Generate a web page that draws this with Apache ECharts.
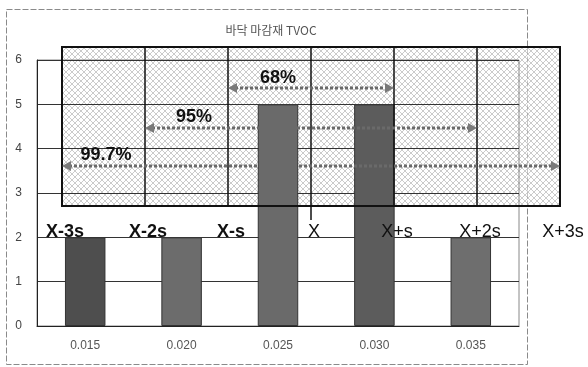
<!DOCTYPE html>
<html>
<head>
<meta charset="utf-8">
<script src="https://cdn.jsdelivr.net/npm/echarts@6/dist/echarts.min.js"></script>
<style>
  html, body { margin: 0; padding: 0; background: #fff; }
  #chart { width: 588px; height: 367px; }
</style>
</head>
<body>
<div id="chart"></div>
<script>
// Concentration classes on the x axis and the number of samples in each
const categories = ['0.015', '0.020', '0.025', '0.030', '0.035'];
const counts = [2, 2, 5, 5, 2];
const barColors = ['#4e4e4e', '#6c6c6c', '#6a6a6a', '#5c5c5c', '#6e6e6e'];
const titleText = '바닥 마감재 TVOC';

// Sigma band labels and coverage of each band
const sigmaLabels = ['X-3s', 'X-2s', 'X-s', 'X', 'X+s', 'X+2s', 'X+3s'];
const coverageLabels = ['68%', '95%', '99.7%'];

// Layout of the sigma overlay (pixels)
const bandLeft = 62, bandStep = 83, bandTop = 47, bandBottom = 206;
const arrowRows = [
  { from: 2, to: 4, y: 88, lx: 278, ly: 78 },
  { from: 1, to: 5, y: 128, lx: 194, ly: 117 },
  { from: 0, to: 6, y: 166, lx: 106, ly: 155 }
];

// light crosshatch tile for the overlay
function hatchTile() {
  const n = 6;
  const c = document.createElement('canvas');
  c.width = n; c.height = n;
  const g = c.getContext('2d');
  g.fillStyle = 'rgba(255,255,255,0.5)';
  g.fillRect(0, 0, n, n);
  g.fillStyle = 'rgba(140,140,140,0.45)';
  for (let i = 0; i < n; i++) {
    g.fillRect(i, i, 1, 1);
    g.fillRect(n - 1 - i, i, 1, 1);
  }
  return c;
}

const chart = echarts.init(document.getElementById('chart'), null, { renderer: 'canvas' });

const graphics = [];
// outer chart frame
graphics.push({
  type: 'rect', z: -20,
  shape: { x: 6.5, y: 9.5, width: 521, height: 355 },
  style: { fill: 'none', stroke: '#8a8a8a', lineWidth: 1, lineDash: [6, 2] }
});
// hatched band box
const bandRight = bandLeft + bandStep * 6;
graphics.push({
  type: 'rect', z: -10,
  shape: { x: bandLeft, y: bandTop, width: bandRight - bandLeft, height: bandBottom - bandTop },
  style: { fill: { image: hatchTile(), repeat: 'repeat' }, stroke: null }
});
graphics.push({
  type: 'rect', z: 10,
  shape: { x: bandLeft, y: bandTop, width: bandRight - bandLeft, height: bandBottom - bandTop },
  style: { fill: 'none', stroke: '#111', lineWidth: 2 }
});
// band dividers and sigma labels
sigmaLabels.forEach((s, i) => {
  const x = bandLeft + bandStep * i;
  graphics.push({
    type: 'line', z: 10,
    shape: { x1: x, y1: bandTop, x2: x, y2: i === 3 ? 220 : bandBottom },
    style: { stroke: '#111', lineWidth: 1.5 }
  });
  graphics.push({
    type: 'text', z: 12,
    x: x + 3, y: 232,
    style: {
      text: s, fill: '#111', font: (i < 3 ? 'bold ' : '') + '18px "Liberation Sans", Arial, sans-serif',
      align: 'center', verticalAlign: 'middle'
    }
  });
});
// dotted double-headed arrows with coverage labels
arrowRows.forEach((r, k) => {
  const x1 = bandLeft + bandStep * r.from, x2 = bandLeft + bandStep * r.to;
  graphics.push({
    type: 'line', z: 11,
    shape: { x1: x1 + 7, y1: r.y, x2: x2 - 7, y2: r.y },
    style: { stroke: '#6a6a6a', lineWidth: 3, lineDash: [3, 2] }
  });
  graphics.push({
    type: 'polygon', z: 11,
    shape: { points: [[x1, r.y], [x1 + 9, r.y - 5], [x1 + 9, r.y + 5]] },
    style: { fill: '#7a7a7a' }
  });
  graphics.push({
    type: 'polygon', z: 11,
    shape: { points: [[x2, r.y], [x2 - 9, r.y - 5], [x2 - 9, r.y + 5]] },
    style: { fill: '#7a7a7a' }
  });
  graphics.push({
    type: 'text', z: 12,
    x: r.lx, y: r.ly,
    style: {
      text: coverageLabels[k], fill: '#111',
      font: 'bold 18px "Liberation Sans", Arial, sans-serif',
      align: 'center', verticalAlign: 'middle'
    }
  });
});

chart.setOption({
  animation: false,
  backgroundColor: '#fff',
  title: {
    text: titleText, left: 266, top: 19, textAlign: 'center',
    textStyle: { fontFamily: '"Noto Sans CJK KR", sans-serif', fontSize: 12, fontWeight: 'normal', color: '#555' }
  },
  grid: { left: 37, right: 69, top: 60, bottom: 41, show: true, borderColor: '#888', borderWidth: 1, backgroundColor: 'transparent' },
  xAxis: {
    type: 'category', data: categories,
    axisLine: { lineStyle: { color: '#222', width: 1 } },
    axisTick: { inside: true, length: 3, lineStyle: { color: '#444' } },
    axisLabel: { margin: 14, fontSize: 12, color: '#555', fontFamily: '"Liberation Sans", Arial, sans-serif' }
  },
  yAxis: {
    type: 'value', min: 0, max: 6, interval: 1,
    axisLine: { show: true, lineStyle: { color: '#222', width: 1 } },
    axisTick: { show: false },
    axisLabel: { margin: 15, fontSize: 12, color: '#444', fontFamily: '"Liberation Sans", Arial, sans-serif' },
    splitLine: { lineStyle: { color: '#333', width: 1 } }
  },
  series: [{
    type: 'bar', barWidth: '42%', z: 3,
    data: counts.map((v, i) => ({ value: v, itemStyle: { color: barColors[i] } })),
    itemStyle: { borderColor: '#333', borderWidth: 1 }
  }],
  graphic: graphics
});
</script>
</body>
</html>
